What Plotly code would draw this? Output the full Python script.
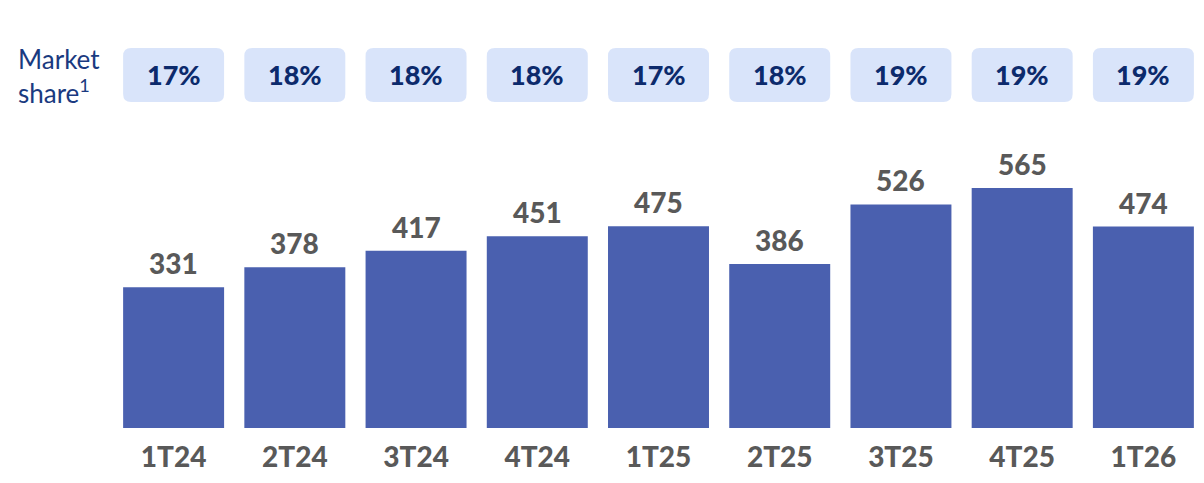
import plotly.graph_objects as go

categories = ["1T24", "2T24", "3T24", "4T24", "1T25", "2T25", "3T25", "4T25", "1T26"]
values = [331, 378, 417, 451, 475, 386, 526, 565, 474]
market_share = ["17%", "18%", "18%", "18%", "17%", "18%", "19%", "19%", "19%"]

BAR = "#4A60AF"
BOX = "#D9E4FA"
NAVY = "#0C2A6C"
NAVY_LIGHT = "#1A3A80"
GREY = "#595959"
FONT = "Lato"

# page body adds an 8px offset; figure is sized to fit the window
OFF = 8
W, H = 1204 - OFF, 483 - OFF
ML, MR, MT, MB = 113 - OFF, 0, 40 - OFF, 55
PLOT_W = W - ML - MR
PLOT_H = H - MB - MT
YMAX = PLOT_H / 0.425

fig = go.Figure(go.Bar(
    x=list(range(len(categories))), y=values, marker=dict(color=BAR, line=dict(width=0)),
    width=0.833, hoverinfo="skip",
))

annotations = []
for i, v in enumerate(values):
    annotations.append(dict(x=i, y=v, text=str(v), showarrow=False, yanchor="bottom",
                            yshift=5, font=dict(family=FONT, size=28, color=GREY, weight=900)))

# market share rounded boxes (reference pixel rows 48..102)
px_x = PLOT_W / 9.0
px_y = PLOT_H / YMAX
base_px = H - MB  # baseline in figure pixels
rx = 8 / px_x
ry = 8 / px_y
y_top = (base_px - (48 - OFF)) / px_y
y_bot = (base_px - (102 - OFF)) / px_y
shapes = []
for i, s in enumerate(market_share):
    x0, x1 = i - 0.4165, i + 0.4165
    path = (f"M {x0+rx},{y_bot} L {x1-rx},{y_bot} Q {x1},{y_bot} {x1},{y_bot+ry} "
            f"L {x1},{y_top-ry} Q {x1},{y_top} {x1-rx},{y_top} L {x0+rx},{y_top} "
            f"Q {x0},{y_top} {x0},{y_top-ry} L {x0},{y_bot+ry} Q {x0},{y_bot} {x0+rx},{y_bot} Z")
    shapes.append(dict(type="path", path=path, xref="x", yref="y", fillcolor=BOX,
                       line=dict(width=0), layer="below"))
    annotations.append(dict(x=i, y=(y_top + y_bot) / 2, text=s, showarrow=False,
                            yshift=1, font=dict(family=FONT, size=27, color=NAVY, weight=900)))

annotations.append(dict(xref="paper", yref="paper", x=(16 - OFF - ML) / PLOT_W,
                        y=(base_px - (76 - OFF)) / PLOT_H, xanchor="left", yanchor="middle", align="left",
                        text="Market<br>share<sup>1</sup>", showarrow=False,
                        font=dict(family=FONT, size=26, color=NAVY_LIGHT)))

fig.update_layout(
    width=W, height=H, margin=dict(l=ML, r=MR, t=MT, b=MB),
    paper_bgcolor="white", plot_bgcolor="white", showlegend=False,
    xaxis=dict(tickmode="array", tickvals=list(range(len(categories))), ticktext=categories,
               range=[-0.5, 8.5], showgrid=False, zeroline=False, showline=False, ticks="",
               ticklabelstandoff=10,
               tickfont=dict(family=FONT, size=28, color=GREY, weight=900), fixedrange=True),
    yaxis=dict(range=[0, YMAX], visible=False, fixedrange=True),
    shapes=shapes, annotations=annotations,
)

fig.write_html("out.html", config={"displayModeBar": False})
